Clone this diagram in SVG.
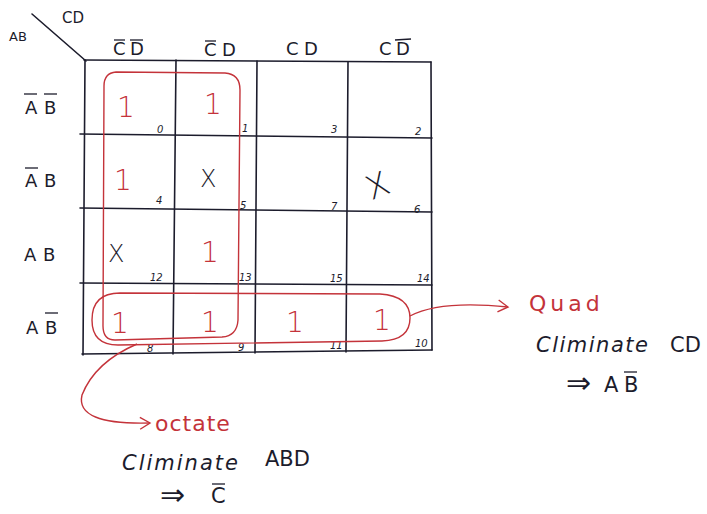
<svg xmlns="http://www.w3.org/2000/svg" width="707" height="514" viewBox="0 0 707 514">
<style>
.g{stroke:#1c1c2c;stroke-width:1.6;fill:none;stroke-linecap:round}
.ob{stroke:#1c1c2c;stroke-width:1.3;fill:none}
.t{font-family:"DejaVu Sans",sans-serif;fill:#1c1c2c}
.hd{font-size:18px}
.n{font-size:10px;font-style:italic}
.one{font-family:"DejaVu Sans",sans-serif;font-size:28px;fill:#c4333a;font-weight:200}
.x{font-family:"DejaVu Sans",sans-serif;font-size:24px;fill:#1c1c2c;font-weight:200}
.r{stroke:#c4333a;stroke-width:1.4;fill:none}
.rt{font-family:"DejaVu Sans",sans-serif;fill:#c4333a;font-size:22px}
.bt{font-family:"DejaVu Sans",sans-serif;fill:#1c1c2c;font-size:21px}
.ar{font-size:30px}
</style>
<defs>
<marker id="ah" markerWidth="14" markerHeight="14" refX="11" refY="7" orient="auto" markerUnits="userSpaceOnUse">
<path d="M1,1 L11,7 L1,13" fill="none" stroke="#c4333a" stroke-width="1.4"/>
</marker>
</defs>
<rect width="707" height="514" fill="#ffffff"/>

<g id="grid">
<line class="g" x1="84" y1="60" x2="431" y2="62"/>
<line class="g" x1="80" y1="134" x2="432" y2="138"/>
<line class="g" x1="80" y1="208" x2="432" y2="212"/>
<line class="g" x1="80" y1="283" x2="432" y2="285"/>
<line class="g" x1="82" y1="354" x2="432" y2="350"/>
<line class="g" x1="85" y1="60" x2="83" y2="355"/>
<line class="g" x1="176" y1="60" x2="173" y2="354"/>
<line class="g" x1="257" y1="61" x2="255" y2="353"/>
<line class="g" x1="348" y1="62" x2="346" y2="352"/>
<line class="g" x1="431" y1="62" x2="432" y2="350"/>
<line class="g" x1="32" y1="14" x2="86" y2="61"/>
</g>

<g id="headers">
<text class="t" x="9" y="41" font-size="13">AB</text>
<text class="t" x="62" y="23" font-size="15">CD</text>
<text class="t hd" x="113" y="55">C</text><text class="t hd" x="130" y="55">D</text>
<line class="ob" x1="114" y1="40" x2="125" y2="40"/><line class="ob" x1="130" y1="40" x2="143" y2="40"/>
<text class="t hd" x="204" y="56">C</text><text class="t hd" x="222" y="56">D</text>
<line class="ob" x1="205" y1="41" x2="216" y2="41"/>
<text class="t hd" x="286" y="55">C</text><text class="t hd" x="304" y="55">D</text>
<text class="t hd" x="379" y="55">C</text><text class="t hd" x="396" y="55">D</text>
<line class="ob" x1="395" y1="40" x2="411" y2="39"/>
<text class="t hd" x="25" y="114">A</text><text class="t hd" x="44" y="114">B</text>
<line class="ob" x1="24" y1="94" x2="37" y2="94"/><line class="ob" x1="44" y1="94" x2="57" y2="94"/>
<text class="t hd" x="25" y="187">A</text><text class="t hd" x="44" y="187">B</text>
<line class="ob" x1="25" y1="168" x2="38" y2="168"/>
<text class="t hd" x="24" y="261">A</text><text class="t hd" x="43" y="261">B</text>
<text class="t hd" x="26" y="334">A</text><text class="t hd" x="45" y="334">B</text>
<line class="ob" x1="45" y1="313" x2="58" y2="313"/>
</g>

<g id="cellnums" class="t n">
<text x="157" y="133">0</text><text x="242" y="132">1</text><text x="331" y="133">3</text><text x="415" y="135">2</text>
<text x="156" y="204">4</text><text x="240" y="209">5</text><text x="331" y="210">7</text><text x="414" y="213">6</text>
<text x="150" y="281">12</text><text x="239" y="281">13</text><text x="330" y="282">15</text><text x="417" y="282">14</text>
<text x="147" y="352">8</text><text x="238" y="351">9</text><text x="330" y="349">11</text><text x="415" y="347">10</text>
</g>

<g id="cellvalues">
<text class="one" x="117" y="117">1</text>
<text class="one" x="204" y="114">1</text>
<text class="one" x="114" y="190">1</text>
<text class="x" x="200" y="187">X</text>
<text class="x" x="366" y="197" style="font-size:33px" transform="rotate(-22 378 185)">X</text>
<text class="x" x="108" y="262">X</text>
<text class="one" x="201" y="262">1</text>
<text class="one" x="111" y="333">1</text>
<text class="one" x="201" y="332">1</text>
<text class="one" x="286" y="332">1</text>
<text class="one" x="373" y="330">1</text>
</g>

<g id="groups">
<path class="r" d="M116,72 L225,73 Q240,74 240,90 L238,320 Q237,336 222,337 L115,340 Q103,340 103,326 L104,86 Q104,73 116,72 Z"/>
<path class="r" d="M120,293 L380,294 Q410,296 410,318 Q410,340 382,341 L118,345 Q92,345 92,320 Q92,293 120,293 Z"/>
</g>

<g id="connectors">
<path class="r" d="M410,316 Q440,300 508,307" marker-end="url(#ah)"/>
<path class="r" d="M137,344 Q95,362 82,395 Q75,425 150,423" marker-end="url(#ah)"/>
</g>

<g id="notes">
<text class="rt" x="529" y="311" font-size="24" letter-spacing="4">Quad</text>
<text class="bt" x="536" y="352" font-style="italic" letter-spacing="1.5">Climinate</text>
<text class="bt" x="670" y="352">CD</text>
<text class="bt ar" x="566" y="393">⇒</text><text class="bt" x="604" y="392">A</text><text class="bt" x="624" y="392">B</text>
<line class="ob" x1="624" y1="372" x2="637" y2="372"/>
<text class="rt" x="155" y="431" letter-spacing="1">octate</text>
<text class="bt" x="122" y="470" font-style="italic" letter-spacing="2">Climinate</text>
<text class="bt" x="265" y="466">ABD</text>
<text class="bt ar" x="160" y="505">⇒</text><text class="bt" x="211" y="503">C</text>
<line class="ob" x1="212" y1="484" x2="225" y2="484"/>
</g>
</svg>
